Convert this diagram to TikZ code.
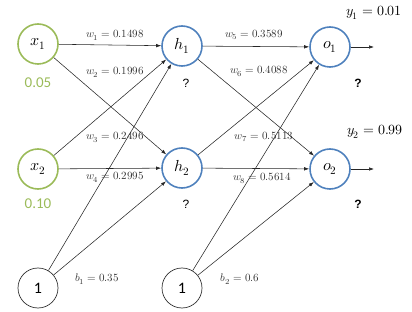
\documentclass[tikz,border=0pt]{standalone}
\usepackage{fontspec}
\usepackage{unicode-math}
\setmathfont{Latin Modern Math}
\newfontfamily\calib{Carlito}
\newfontfamily\arialfont{Liberation Sans}
\usepackage{xcolor}
\usetikzlibrary{arrows.meta, positioning, calc}
\definecolor{ingreen}{RGB}{155,187,89}
\definecolor{hidblue}{RGB}{79,129,189}

\begin{document}
\begin{tikzpicture}[x=1pt, y=-1pt,
    neuron/.style={circle, minimum size=40pt, inner sep=0pt, font=\fontsize{16}{16}\selectfont},
    innode/.style={neuron, draw=ingreen, line width=1.6pt},
    hidnode/.style={neuron, draw=hidblue, line width=1.6pt},
    biasnode/.style={neuron, draw=black!80, line width=0.7pt, font=\calib\fontsize{16}{16}\selectfont},
    wlabel/.style={font=\fontsize{11}{11}\selectfont, text=black!80, inner sep=0pt},
    link/.style={draw=black!85, line width=0.55pt, -{Latex[length=5pt, width=3.5pt]}},
    inval/.style={font=\calib\fontsize{15}{15}\selectfont, text=ingreen},
    qmark/.style={font=\arialfont\fontsize{12}{12}\selectfont},
    ylabel/.style={font=\fontsize{14}{14}\selectfont}]
    \useasboundingbox (0,0) rectangle (412,312);
    % nodes
    \node[innode] (x1) at (38,44) {$x_1$};
    \node[innode] (x2) at (38,169) {$x_2$};
    \node[biasnode] (b1) at (38,288) {1};
    \node[hidnode] (h1) at (182,46) {$h_1$};
    \node[hidnode] (h2) at (182,168) {$h_2$};
    \node[biasnode] (b2) at (182,288) {1};
    \node[hidnode] (o1) at (330,47) {$o_1$};
    \node[hidnode] (o2) at (330,169) {$o_2$};
    \coordinate (y1) at (374,47);
    \coordinate (y2) at (374,169);
    % connections
    \draw[link] (x1) -- (h1);
    \draw[link] (x1) -- (h2);
    \draw[link] (x2) -- (h1);
    \draw[link] (x2) -- (h2);
    \draw[link] (b1) -- (h1);
    \draw[link] (b1) -- (h2);
    \draw[link] (h1) -- (o1);
    \draw[link] (h1) -- (o2);
    \draw[link] (h2) -- (o1);
    \draw[link] (h2) -- (o2);
    \draw[link] (b2) -- (o1);
    \draw[link] (b2) -- (o2);
    \draw[link] (o1) -- (y1);
    \draw[link] (o2) -- (y2);
    % weights
    \node[wlabel] (lw1) at (115,35) {$w_1 = 0.1498$};
    \node[wlabel] (lw2) at (115,72) {$w_2 = 0.1996$};
    \node[wlabel] (lw3) at (115,137) {$w_3 = 0.2496$};
    \node[wlabel] (lw4) at (115,177) {$w_4 = 0.2995$};
    \node[wlabel] (lb1) at (97,279) {$b_1 = 0.35$};
    \node[wlabel] (lw5) at (254,35) {$w_5 = 0.3589$};
    \node[wlabel] (lw6) at (259,71) {$w_6 = 0.4088$};
    \node[wlabel] (lw7) at (264,137) {$w_7 = 0.5113$};
    \node[wlabel] (lw8) at (262,178) {$w_8 = 0.5614$};
    \node[wlabel] (lb2) at (240,279) {$b_2 = 0.6$};
    % values
    \node[inval] (v1) at (38,83) {0.05};
    \node[inval] (v2) at (38,204) {0.10};
    \node[qmark] (q1) at (186,83) {?};
    \node[qmark] (q2) at (186,204) {?};
    \node[qmark, font=\arialfont\bfseries\fontsize{12}{12}\selectfont] (q3) at (358,83) {?};
    \node[qmark, font=\arialfont\bfseries\fontsize{12}{12}\selectfont] (q4) at (358,204) {?};
    \node[ylabel] (t1) at (374,13) {$y_1 = 0.01$};
    \node[ylabel] (t2) at (375,132) {$y_2 = 0.99$};
\end{tikzpicture}
\end{document}
